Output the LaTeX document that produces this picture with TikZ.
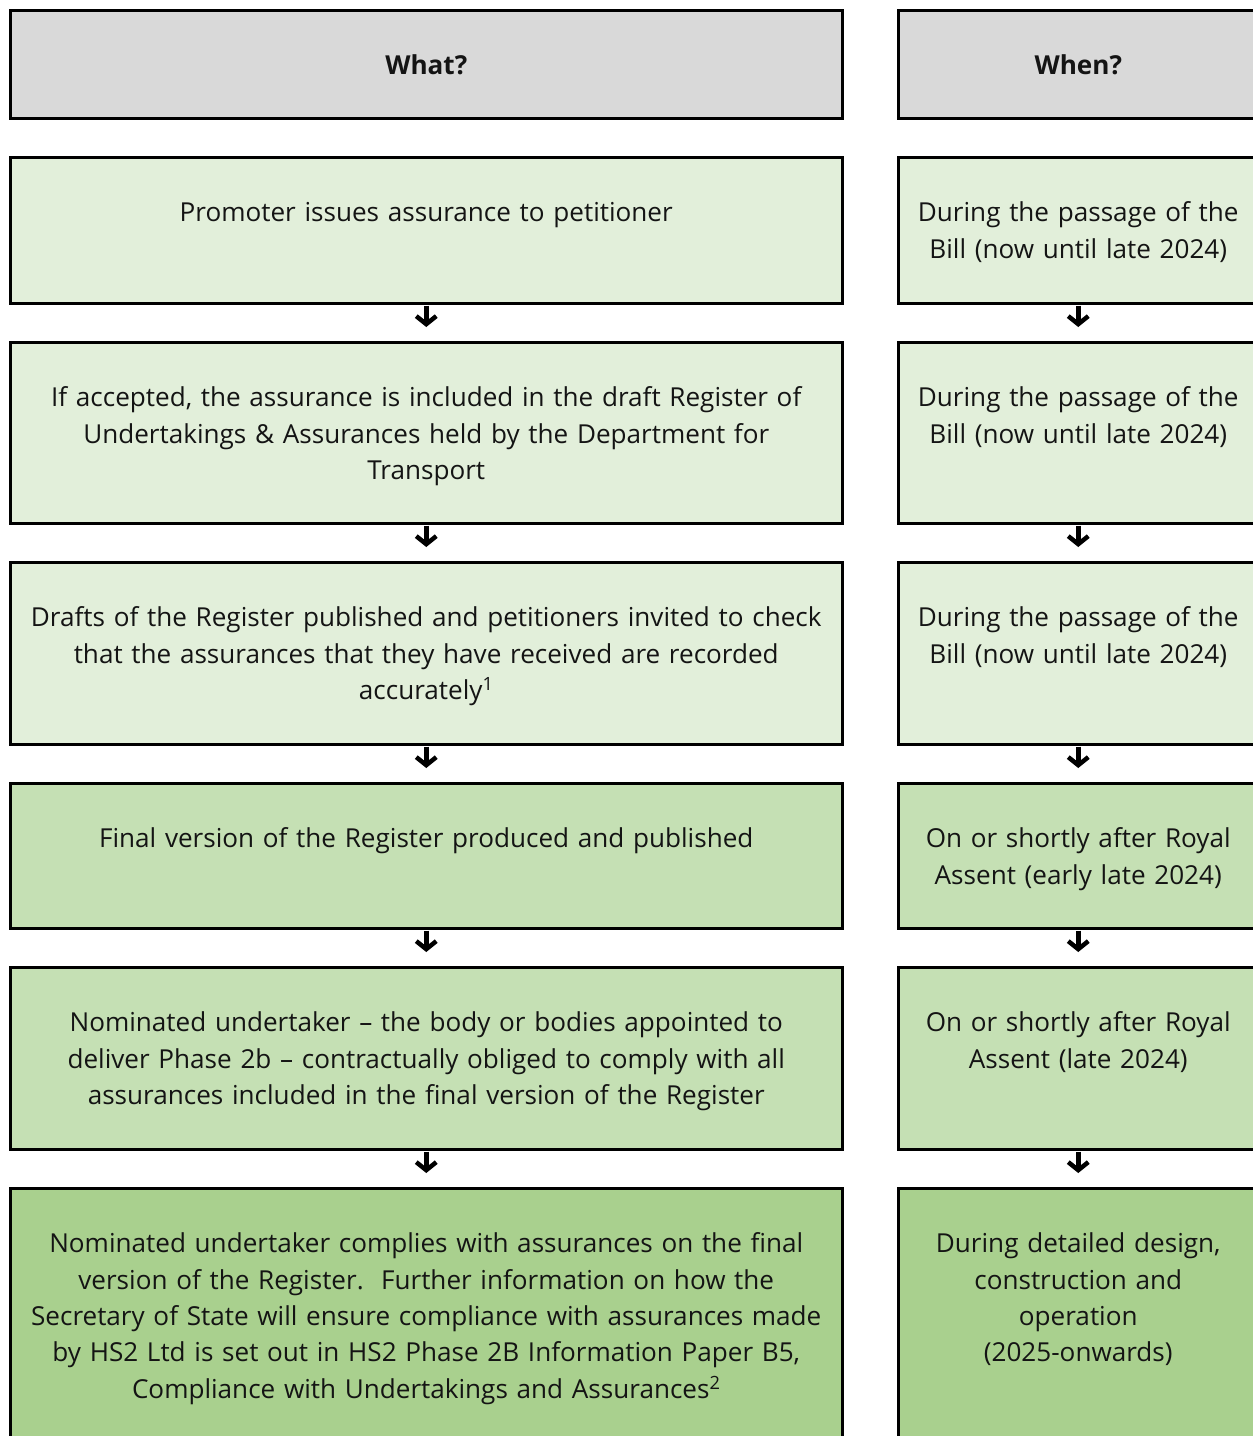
\documentclass[tikz,border=0pt]{standalone}
\usepackage{fontspec}
\setmainfont{Open Sans}
\usetikzlibrary{arrows.meta}
\definecolor{hdr}{HTML}{D9D9D9}
\definecolor{lightg}{HTML}{E2EFDA}
\definecolor{midg}{HTML}{C5E0B4}
\definecolor{darkg}{HTML}{A9D08E}
\begin{document}
\begin{tikzpicture}[x=1pt,y=-1pt,
  box/.style={draw=black, line width=2.5pt, anchor=north west, inner sep=0pt},
  lbox/.style={box, minimum width=832pt},
  rbox/.style={box, minimum width=360pt},
  txt/.style={align=center, inner sep=0pt, text=black!92, font=\fontsize{26.1}{36.4}\selectfont},
  ltxt/.style={txt, text width=815pt},
  rtxt/.style={txt, text width=355pt},
  flow/.style={line width=4.5pt, -{Straight Barb[length=8pt,width=20pt,line width=4.5pt]}, shorten >=14pt, shorten <=1pt}]
\useasboundingbox (0,0) rectangle (1253,1436);
\fill[white] (0,0) rectangle (1253,1436);
% header
\node[lbox, fill=hdr, minimum height=108pt] (lh) at (9,9) {};
\node[rbox, fill=hdr, minimum height=108pt] (rh) at (897,9) {};
% rows left
\node[lbox, fill=lightg, minimum height=146pt] (l1) at (9,156) {};
\node[lbox, fill=lightg, minimum height=181pt] (l2) at (9,341) {};
\node[lbox, fill=lightg, minimum height=182pt] (l3) at (9,561) {};
\node[lbox, fill=midg, minimum height=145pt] (l4) at (9,782) {};
\node[lbox, fill=midg, minimum height=182pt] (l5) at (9,966) {};
\node[lbox, fill=darkg, minimum height=260pt] (l6) at (9,1187) {};
% rows right
\node[rbox, fill=lightg, minimum height=146pt] (r1) at (897,156) {};
\node[rbox, fill=lightg, minimum height=181pt] (r2) at (897,341) {};
\node[rbox, fill=lightg, minimum height=182pt] (r3) at (897,561) {};
\node[rbox, fill=midg, minimum height=145pt] (r4) at (897,782) {};
\node[rbox, fill=midg, minimum height=182pt] (r5) at (897,966) {};
\node[rbox, fill=darkg, minimum height=260pt] (r6) at (897,1187) {};
% texts
\node[ltxt, below=40pt] (tlh) at (lh.north) {\strut\textbf{What?}};
\node[rtxt, below=40pt] (trh) at (rh.north) {\strut\textbf{When?}};
\node[ltxt, below=40pt] (tl1) at (l1.north) {\strut Promoter issues assurance to petitioner};
\node[ltxt, below=40pt] (tl2) at (l2.north) {\strut If accepted, the assurance is included in the draft Register of\\Undertakings \& Assurances held by the Department for\\Transport};
\node[ltxt, below=40pt] (tl3) at (l3.north) {\strut Drafts of the Register published and petitioners invited to check\\that the assurances that they have received are recorded\\accurately\textsuperscript{1}};
\node[ltxt, below=40pt] (tl4) at (l4.north) {\strut Final version of the Register produced and published};
\node[ltxt, below=40pt] (tl5) at (l5.north) {\strut Nominated undertaker – the body or bodies appointed to\\deliver Phase 2b – contractually obliged to comply with all\\assurances included in the final version of the Register};
\node[ltxt, below=40pt] (tl6) at (l6.north) {\strut Nominated undertaker complies with assurances on the final\\version of the Register.\ \ Further information on how the\\Secretary of State will ensure compliance with assurances made\\by HS2 Ltd is set out in HS2 Phase 2B Information Paper B5,\\Compliance with Undertakings and Assurances\textsuperscript{2}};
\node[rtxt, below=40pt] (tr1) at (r1.north) {\strut During the passage of the\\Bill (now until late 2024)};
\node[rtxt, below=40pt] (tr2) at (r2.north) {\strut During the passage of the\\Bill (now until late 2024)};
\node[rtxt, below=40pt] (tr3) at (r3.north) {\strut During the passage of the\\Bill (now until late 2024)};
\node[rtxt, below=40pt] (tr4) at (r4.north) {\strut On or shortly after Royal\\Assent (early late 2024)};
\node[rtxt, below=40pt] (tr5) at (r5.north) {\strut On or shortly after Royal\\Assent (late 2024)};
\node[rtxt, below=40pt] (tr6) at (r6.north) {\strut During detailed design,\\construction and\\operation\\(2025-onwards)};
% arrows
\draw[flow] (l1.south) -- (l2.north);
\draw[flow] (l2.south) -- (l3.north);
\draw[flow] (l3.south) -- (l4.north);
\draw[flow] (l4.south) -- (l5.north);
\draw[flow] (l5.south) -- (l6.north);
\draw[flow] (r1.south) -- (r2.north);
\draw[flow] (r2.south) -- (r3.north);
\draw[flow] (r3.south) -- (r4.north);
\draw[flow] (r4.south) -- (r5.north);
\draw[flow] (r5.south) -- (r6.north);
\end{tikzpicture}
\end{document}
